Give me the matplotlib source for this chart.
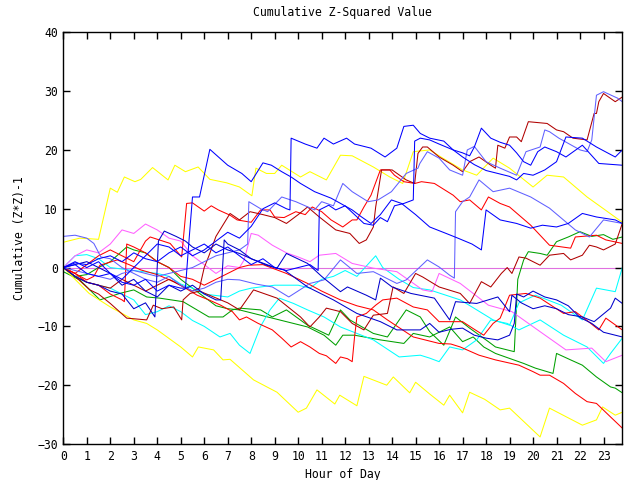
import matplotlib
matplotlib.use("Agg")
import matplotlib.pyplot as plt

# ---------------- data (hour, cumulative value) ----------------
hours_ticks = list(range(0, 24))
y_ticks = [-30, -20, -10, 0, 10, 20, 30, 40]

yellow_hi = [(0,4.3),(0.7,5),(1.5,4.8),(2.0,13.5),(2.3,12.8),(2.6,15.4),(3.05,14.6),(3.3,15),(3.8,17),(4.46,14.9),(4.75,17.4),(5.2,16.3),(5.74,17.1),(6.24,15),(6.96,14.4),(7.5,13.7),(8.03,12.2),(8.2,16.9),(8.65,16),(9.0,16),(9.3,17.4),(10.1,15.4),(10.5,16.3),(11.2,14.9),(11.8,19.1),(12.3,19),(13.2,17.1),(13.9,15.4),(14.45,14.3),(14.9,19.7),(15.6,20),(16.2,18.5),(17,16.6),(17.6,15.7),(18.3,18.6),(19,16.9),(20,13.7),(20.6,15.7),(21.3,15.4),(22.3,12),(23,10),(23.8,7.7)]
yellow_lo = [(0,0),(1.1,-4.4),(2,-6.7),(3,-8.9),(3.55,-9.5),(4,-10.6),(5,-13.5),(5.5,-15.2),(5.75,-13.5),(6.4,-14),(6.8,-15.7),(7.1,-15.6),(8.1,-19.1),(9.1,-21.2),(10,-24.6),(10.35,-23.9),(10.8,-20.8),(11.56,-23.2),(11.77,-21.7),(12.5,-23.5),(12.8,-18.5),(13.77,-20),(14.05,-18.6),(14.75,-21.3),(15,-19.5),(15.6,-21.5),(16.2,-23.4),(16.45,-21.7),(17,-24.7),(17.3,-21.2),(17.94,-22.4),(18.6,-24.2),(19,-23.9),(20.3,-28.8),(20.7,-23.9),(22.1,-26.8),(22.7,-25.9),(22.96,-23.7),(23.5,-25.1),(23.8,-24.6)]
blue_peak = [(0,0),(0.5,0.5),(1,-1),(1.5,-1.5),(2,-1),(2.5,-2.5),(3,-3),(3.5,-2),(4,-4),(4.5,-3),(5,-3.5),(5.2,-3.5),(5.35,4.5),(5.5,12),(5.8,12),(6.24,20.1),(7.0,17.4),(7.6,16),(8.0,14.6),(8.5,17.8),(8.86,17.4),(9.3,16.3),(9.7,15.4),(10.1,14.3),(10.7,12.9),(11.4,11.8),(12.3,9.8),(12.7,8.6),(13.1,7.5),(13.5,9),(13.97,11.5),(14.4,10.9),(15.0,9),(15.6,6.9),(16.3,5.8),(16.8,5),(17.4,4),(17.8,3),(18.0,9.8),(18.6,8.1),(19.3,7.5),(19.9,6.7),(20.4,7.2),(21,6.9),(21.5,7.5),(22.1,9.2),(22.7,8.6),(23.5,8.1),(23.8,7.5)]
blue_jump = [(0,0),(0.5,0.8),(1,0.5),(1.5,1.5),(2,2),(2.5,1),(3,2.5),(3.5,1.5),(4,1),(4.5,2.5),(5,3.5),(5.5,2),(6,3),(6.5,4.5),(7,6),(7.5,5),(8,7),(8.5,10),(9,11),(9.5,10),(9.65,9.8),(9.7,22),(10.3,21),(10.8,20.3),(11.1,22),(11.5,21),(12.06,22),(12.4,21),(13.1,20.3),(13.7,18.8),(14.2,20.3),(14.5,24),(14.9,24.2),(15.2,22.8),(15.6,22),(16.2,21.5),(16.6,20),(17.0,19.5),(17.3,19),(17.5,20.5),(17.8,23.7),(18.2,22),(18.6,21.3),(19,20.8),(19.3,19.5),(19.6,18),(19.9,17.4),(20.2,19.7),(20.5,20.5),(21,19.7),(21.4,18.8),(22.1,20.8),(22.8,17.7),(23.8,17.4)]
blue_two = [(0,0),(0.5,1),(1,0),(1.5,1),(2,-1),(2.5,-2),(3,0),(3.5,2),(4,4),(4.5,3.5),(5,2),(5.5,3),(6,4),(6.5,2.5),(7,3.5),(7.5,2),(8,0.5),(8.5,1.5),(9,0),(9.5,-0.5),(10,0),(10.5,0.5),(10.85,-0.5),(10.9,9.8),(11.3,10.6),(11.6,9.8),(12,10.5),(12.4,9),(12.8,7.5),(13.2,7.2),(13.5,8.5),(13.8,7.8),(14.1,10.5),(14.5,10.9),(14.9,11.5),(14.96,21.5),(15.2,22),(15.6,21.7),(16,21),(16.6,20),(17,18.8),(17.5,17.5),(18,16.5),(18.5,16),(19,15.5),(19.3,14.9),(19.6,16),(20,15.7),(20.5,16.6),(21,18),(21.4,22.2),(22.1,22),(22.7,20.5),(23.5,18.8),(23.8,20)]
blue_three = [(0,0),(0.5,0.5),(1,1),(1.5,0),(2,-1),(2.5,-3),(3,-2),(3.5,-4),(4,-5),(4.5,-3),(5,-4),(5.5,-3),(6,-4.5),(6.5,-5.5),(6.7,-5.5),(6.85,4.7),(7,4),(7.5,3),(8,1.5),(8.65,0.4),(9.1,-0.1),(9.5,2.4),(10.4,0.7),(11,-1.5),(11.8,-4.1),(12.1,-3.3),(12.9,-4.7),(13.3,-5.5),(13.5,-1.8),(14,-3.3),(14.8,-4.4),(15.8,-5.2),(16.45,-8.9),(16.7,-5.8),(17.6,-6.1),(18.5,-5),(19,-7.5),(19.1,-4.7),(19.5,-6),(20,-7),(20.5,-6.5),(21,-7),(21.5,-8),(22.1,-8.4),(22.6,-9.2),(23.3,-6.9),(23.5,-5.2),(23.8,-6.1)]
blue_four = [(0,0),(0.5,-1.5),(1,-2.5),(1.5,-3),(2,-4),(2.5,-4.5),(3,-7),(3.5,-6),(3.9,-8.4),(4.05,4.5),(4.3,6.2),(4.8,5.3),(5.2,4.5),(5.5,3.5),(6,2.5),(6.5,4),(7,3),(7.5,2.4),(8,1.5),(9,0),(9.4,-0.4),(10.4,-3.3),(11.5,-5.5),(12.5,-7.8),(13.5,-9.2),(14.2,-10.6),(15.2,-10.6),(15.6,-9.5),(16,-11),(16.5,-10.5),(17,-10.3),(17.5,-11.5),(18,-12),(18.5,-12.3),(19,-11.5),(19.2,-9.5),(19.3,-4.5),(19.6,-5),(20,-4),(20.5,-5),(21,-5.5),(21.5,-6.5),(22,-8.5),(22.5,-9.5),(23,-11),(23.8,-11.8)]
slate_one = [(0,0),(0.5,-0.5),(1,-1),(1.5,-1.5),(2,-2),(2.5,-1),(3,-0.5),(3.5,-1),(4,-1.5),(4.5,-1),(5,-0.5),(5.5,0),(6,1),(6.5,2),(7,2.5),(7.5,3),(7.85,4),(7.9,11.2),(8.4,10),(8.7,9.5),(9.3,12),(9.9,11.2),(10.7,9.8),(11,11.2),(11.5,10.5),(11.9,14.3),(12.3,12.9),(12.98,11.2),(13.4,11.5),(13.97,12.9),(14.6,16),(15.1,16.9),(15.18,17.7),(15.5,19.7),(16,18.6),(16.45,16.6),(17,15.7),(17.2,20),(17.5,20.6),(18,18),(18.6,16.9),(19.3,15.7),(19.7,19.7),(20.3,20.5),(20.5,23.4),(20.7,23.1),(21.1,22),(22,20),(22.3,19.7),(22.5,21.7),(22.7,29.3),(23,29.9),(23.6,28.8),(23.8,28.2)]
slate_two = [(0,5.3),(0.5,5.5),(1,5),(1.3,4.1),(1.6,1.8),(2,1.5),(2.5,0),(3,-1),(3.5,-2),(4,-2.5),(4.5,-1.5),(5,-3),(5.5,-4),(6,-3.5),(6.5,-2.5),(7,-2),(7.5,-2.1),(8.2,-2.8),(8.9,-3.3),(9.6,-5),(10.5,-2.7),(11.1,-2.1),(11.8,1.3),(12.5,-1),(13.2,-0.7),(14.2,-2.7),(14.6,-2.1),(15.5,1.3),(16,0.1),(16.45,-1.3),(16.65,-1.8),(16.7,9.5),(17.0,11.2),(17.3,12),(17.7,14.9),(18.3,12.9),(19,13.5),(19.9,12),(20.7,10.1),(21.8,6.4),(22.4,5.2),(23,8.1),(23.8,7.5)]
darkred_one = [(0,0),(0.5,-1.5),(1,-2.5),(1.5,-3),(2,-3.5),(2.5,-2),(3,-3),(3.5,-4),(4,-3),(4.5,-2),(5,-3),(5.5,-4),(5.8,-3.5),(6.0,0),(6.2,2),(6.5,5.3),(7.1,9.2),(7.5,8.1),(7.95,9.5),(8.5,9),(9,8.5),(9.5,7.5),(10,9),(10.4,10.3),(10.9,8.6),(11.6,6.4),(12.2,5.8),(12.6,4.1),(12.9,4.7),(13.2,6.9),(13.3,10.3),(13.55,16.6),(14,16.6),(14.6,14.9),(14.96,14.3),(15.1,19.4),(15.3,20.5),(15.5,20.5),(16,18.8),(16.6,17.4),(17,16.3),(17.3,18),(17.7,18.8),(18.2,17.4),(18.4,16.9),(18.5,20.8),(18.8,20.3),(19,22.2),(19.3,22.2),(19.5,21.4),(19.8,24.8),(20.6,24.5),(21,23.4),(21.3,23.1),(21.7,22),(22.3,21.7),(22.6,26.2),(22.7,26.2),(22.8,28.2),(23,29.6),(23.5,28.2),(23.8,29)]
darkred_two = [(0,0),(0.5,-1.5),(1.13,-3.8),(1.5,-4.5),(2,-6.1),(2.7,-8.6),(3.55,-8.9),(3.83,-6.4),(4.2,-7),(4.7,-6.7),(5.04,-8.9),(5.1,-5.5),(5.4,-4.4),(5.8,-4),(6.4,-5),(7,-6),(7.5,-7.2),(8.1,-3.8),(8.6,-4.5),(9.1,-5.2),(10.1,-8.4),(10.5,-10.1),(10.9,-8.4),(11.2,-6.9),(11.8,-7.5),(12.3,-9.5),(12.8,-10.6),(13.2,-8.1),(13.8,-7.8),(14.04,-3.3),(14.5,-4.4),(15.0,-1),(15.3,-1.6),(16,-3.3),(16.9,-4.4),(17.3,-6.1),(17.8,-2.4),(18.2,-3.3),(18.65,-1),(18.9,0),(19.1,-1),(19.4,1.8),(19.7,1.6),(20.3,0.4),(20.7,2.1),(21.3,2.4),(21.6,1.3),(22.1,2.1),(22.4,3.8),(22.7,3.5),(23,3),(23.5,4),(23.8,7.5)]
red_one = [(0,0),(0.5,-1),(1,0.5),(1.5,2),(2,3),(2.5,2),(3,1),(3.5,4.5),(3.7,5.2),(4.55,4.1),(5.04,1.8),(5.25,10.9),(5.5,11),(6.0,9.6),(6.3,10.5),(6.6,9.8),(7.1,8.9),(7.4,8.1),(8.0,7.7),(8.4,9.8),(8.8,9.8),(9.0,8.6),(9.4,8.5),(9.9,9.5),(10.3,9),(10.6,10.3),(11,9.5),(11.4,8.1),(11.9,6.9),(12.3,8.1),(12.5,8.1),(12.8,10.3),(13.1,12.3),(13.5,16.6),(13.9,16.6),(14.1,15.7),(14.5,14.6),(14.97,14.3),(15.25,14.6),(15.8,14.3),(16.6,12.3),(16.9,11.2),(17.3,11.5),(17.8,9.8),(18.1,12),(18.6,10.9),(19,10.3),(19.9,7.2),(20.7,3.8),(21.6,3.3),(21.8,5.2),(22.7,5.5),(23.1,4.7),(23.8,4.1)]
red_two = [(0,0),(0.5,-1),(1,-2.1),(1.3,-1.5),(1.56,0.4),(2.3,1.3),(2.8,0.5),(3.3,-0.4),(4,-1.2),(4.7,-2.4),(5.2,-3.5),(5.7,-4.7),(6.2,-5.5),(6.7,-6.4),(7.2,-7.5),(7.5,-8.9),(7.8,-8.4),(8.3,-9.5),(8.9,-10.6),(9.3,-12),(9.7,-13.5),(10.1,-12.6),(10.5,-13.5),(10.9,-14.6),(11.2,-15),(11.6,-16.3),(11.8,-15.2),(12.1,-15.5),(12.3,-16),(12.4,-11.8),(12.5,-8.4),(12.9,-7.8),(13.3,-6.4),(13.6,-5.5),(14.2,-5.2),(14.9,-6.7),(15.5,-7.2),(16,-9.2),(17,-9.2),(17.5,-10.5),(17.9,-11.5),(18.3,-9.5),(18.6,-8.6),(19,-4.7),(19.7,-4.4),(20.3,-5.2),(21.3,-7.8),(21.8,-7.5),(22.3,-9),(22.8,-10.6),(23.1,-8.6),(23.8,-10.6)]
red_three = [(0,0),(0.5,-1),(1,-2.5),(1.5,-3),(2,-4.5),(2.5,-5.5),(2.6,-5.8),(2.7,4),(3,3.5),(3.5,2.5),(4,1),(4.5,0),(5,-1.5),(5.5,-2),(6,-3),(6.5,-2),(7,-1),(7.5,0),(7.9,0.4),(8.5,0.5),(8.9,-0.1),(9.5,-1),(10.4,-2.7),(11,-4),(11.8,-5.5),(12.5,-6.5),(13.2,-7.2),(13.8,-8.9),(14.9,-11.8),(16,-12.9),(16.5,-13),(16.9,-13.5),(17.7,-14.9),(18.4,-15.7),(19.4,-16.6),(20,-17.7),(20.3,-18.3),(20.7,-18.3),(21.3,-19.7),(21.8,-21.4),(22.3,-22.8),(22.7,-23.1),(23.3,-25.4),(23.8,-27.3)]
green_one = [(0,-0.7),(0.7,-2.1),(1.56,-5.5),(2.4,-4.4),(3.0,-3.8),(3.55,-5),(4.1,-5.2),(5.1,-5.8),(6.2,-8.4),(6.8,-8.4),(7.2,-7.2),(7.5,-6.9),(8.4,-7.2),(8.9,-8.4),(9.5,-7.2),(10.4,-9.8),(11.3,-11.5),(11.8,-7.2),(12.2,-8.9),(13.2,-11.2),(13.8,-11.8),(14.6,-7.2),(15.2,-8.4),(15.6,-10.9),(16.2,-13.2),(16.7,-8.4),(17.3,-10.3),(18.1,-12.6),(18.4,-13.5),(19.2,-14.3),(19.35,-2),(19.6,1.3),(19.8,2.7),(20.3,2.4),(20.6,2.1),(21,4.4),(21.5,5.2),(22.0,6.1),(22.5,5.3),(23.0,5.6),(23.4,4.8),(23.8,5.2)]
green_two = [(0,0),(0.5,-1.5),(1,-1.2),(1.5,0),(2,1),(2.7,3.5),(3,3),(3.5,2.5),(4,1),(4.5,0),(5,-2),(5.5,-3.5),(6,-5),(6.5,-6.5),(7,-7),(7.5,-7.2),(8.9,-8.6),(10.4,-10.1),(11.1,-11.5),(11.6,-13.2),(11.9,-11.5),(12.4,-11.5),(13.5,-12.3),(14.5,-12.9),(14.9,-11.2),(15.6,-11.8),(16.45,-10.1),(17,-12.6),(17.45,-11.8),(17.9,-13.5),(18.4,-14.6),(19.6,-16.3),(20.1,-17.1),(20.85,-18),(21,-14.6),(21.6,-15.7),(22.1,-16.6),(22.7,-18.6),(23.3,-20.3),(23.5,-20.5),(23.8,-21.3)]
cyan_one = [(0,0),(0.5,-1.5),(1,-2.5),(1.5,-3),(2,-3.5),(2.5,-4.5),(3,-5.5),(3.5,-8),(4,-7.5),(4.5,-6.5),(5,-7.5),(5.5,-9),(6,-10),(6.67,-11.8),(7.1,-11.2),(7.5,-13.2),(7.95,-14.6),(8.4,-10),(8.8,-7.2),(9.2,-5.2),(9.8,-6.1),(10.4,-7.2),(11.1,-8.4),(11.8,-10.1),(13.2,-12.3),(14.3,-15.2),(15.2,-14.9),(15.6,-15.4),(16,-16),(16.45,-13.5),(17,-14),(17.6,-12.3),(18.2,-8.9),(18.9,-9.5),(19.4,-10.6),(20.3,-8.9),(21.3,-11.5),(22.3,-13.5),(23,-16.3),(23.3,-14.6),(23.8,-12)]
cyan_two = [(0,0),(0.5,2),(1,2.2),(1.5,1.5),(2,0),(3,-0.5),(4,-1),(4.5,-1.5),(5,-2.8),(5.5,-3.5),(6,-4.5),(7,-5),(7.5,-4),(8,-3.5),(9,-3),(10,-3),(10.5,-3.5),(11,-2),(11.5,-1.5),(12,-0.5),(12.5,-1.5),(13.3,2),(13.6,0),(14.3,-2),(14.9,-3.4),(15.6,-3.8),(16.9,-5.5),(17.4,-6.7),(18.3,-8.9),(19,-9.8),(19.4,-6),(20.1,-4.7),(21.2,-6.4),(22.1,-8.9),(22.7,-3.5),(23.5,-4.1),(23.8,0)]
magenta_one = [(0,0),(0.5,2),(1,3),(1.5,2.5),(2,4),(2.5,6.4),(3,5.8),(3.5,7.4),(4,6.4),(4.5,5),(5,4.5),(5.5,2),(6,0.5),(6.5,-1),(7,0.3),(7.5,0),(7.7,1.3),(8,5.8),(8.3,5.5),(8.9,3.8),(9.5,2.5),(10,1.8),(10.5,1),(10.9,2.1),(11.6,2.4),(12.3,0.7),(13.2,-0.1),(14.2,-0.7),(15.3,-3.8),(15.7,-4.1),(16,-1),(16.9,-2.7),(18.1,-6.4),(19.1,-7.5),(20.3,-10.9),(21.4,-14),(22.5,-13.7),(23.1,-16),(23.8,-14.9)]

series = [
    (green_one, "#00a000"), (green_two, "#00a000"),
    (cyan_one, "#00ffff"), (cyan_two, "#00ffff"),
    (magenta_one, "#ff60ff"),
    (yellow_hi, "#ffff00"), (yellow_lo, "#ffff00"),
    (red_two, "#ff0000"), (red_three, "#ff0000"), (red_one, "#ff0000"),
    (darkred_two, "#b00000"), (darkred_one, "#b00000"),
    (slate_one, "#6060ff"), (slate_two, "#6060ff"),
    (blue_three, "#0000cc"), (blue_four, "#0000cc"),
    (blue_peak, "#0000ff"), (blue_jump, "#0000ff"), (blue_two, "#0000ff"),
]

plt.rcParams['font.family'] = ['DejaVu Sans Mono']
fig = plt.figure(figsize=(6.4, 4.8), dpi=100)
ax = fig.add_axes([63.3/640, 1-444/480, (622.3-63.3)/640, (444-32.3)/480])

ax.axhline(0, color="#e070e0", lw=0.8, zorder=1)
for data, col in series:
    xs = [p[0] for p in data]
    ys = [p[1] for p in data]
    ax.plot(xs, ys, color=col, lw=0.75, zorder=2)

ax.set_xlim(0, 23.8)
ax.set_ylim(-30, 40)
ax.set_xticks(hours_ticks)
ax.set_yticks(y_ticks)
ax.tick_params(direction="in", length=5, width=1, top=True, right=True,
               labelsize=8.3, pad=4, colors="black")
for s in ax.spines.values():
    s.set_linewidth(1.0)
ax.set_title("Cumulative Z-Squared Value", fontsize=8.3, pad=12)
ax.set_xlabel("Hour of Day", fontsize=8.3, labelpad=4)
ax.set_ylabel("Cumulative (Z*Z)-1", fontsize=8.3, labelpad=8)

fig.savefig("out.png", dpi=100)
